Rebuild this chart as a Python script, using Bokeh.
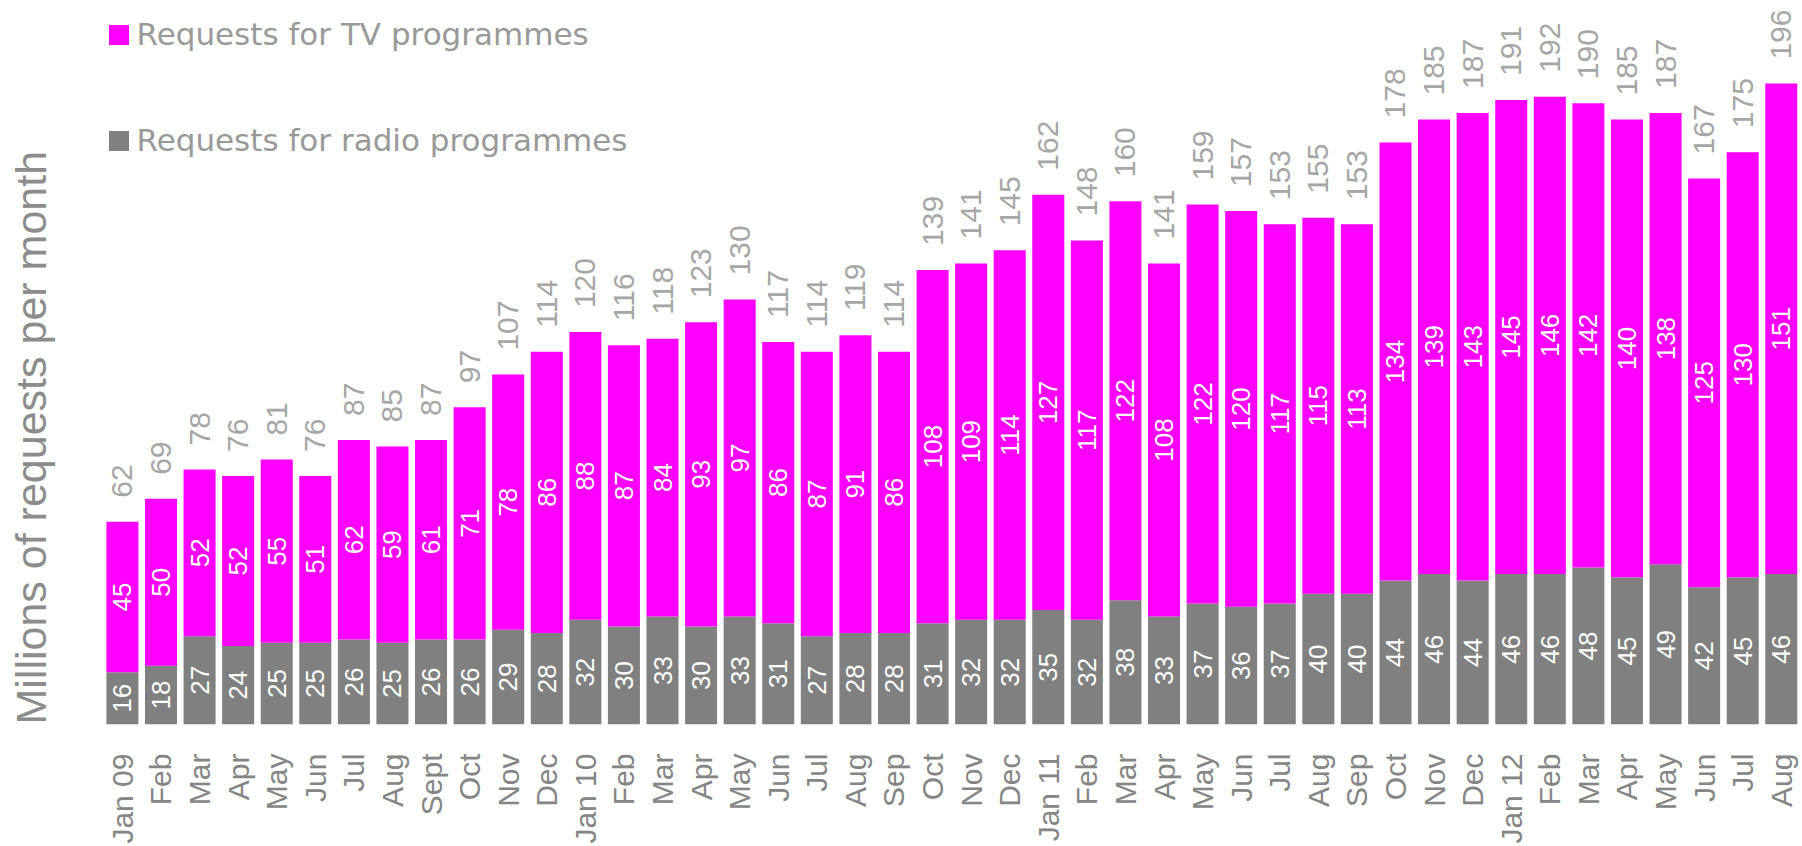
from bokeh.plotting import figure
from bokeh.models import ColumnDataSource, Range1d, FixedTicker, Legend, LegendItem, Title
from bokeh.core.properties import value
from bokeh.embed import file_html
from bokeh.resources import INLINE
import math

months = ["Jan 09", "Feb", "Mar", "Apr", "May", "Jun", "Jul", "Aug", "Sept", "Oct", "Nov", "Dec",
          "Jan 10", "Feb", "Mar", "Apr", "May", "Jun", "Jul", "Aug", "Sep", "Oct", "Nov", "Dec",
          "Jan 11", "Feb", "Mar", "Apr", "May", "Jun", "Jul", "Aug", "Sep", "Oct", "Nov", "Dec",
          "Jan 12", "Feb", "Mar", "Apr", "May", "Jun", "Jul", "Aug"]
radio = [16, 18, 27, 24, 25, 25, 26, 25, 26, 26, 29, 28,
         32, 30, 33, 30, 33, 31, 27, 28, 28, 31, 32, 32,
         35, 32, 38, 33, 37, 36, 37, 40, 40, 44, 46, 44,
         46, 46, 48, 45, 49, 42, 45, 46]
tv = [45, 50, 52, 52, 55, 51, 62, 59, 61, 71, 78, 86,
      88, 87, 84, 93, 97, 86, 87, 91, 86, 108, 109, 114,
      127, 117, 122, 108, 122, 120, 117, 115, 113, 134, 139, 143,
      145, 146, 142, 140, 138, 125, 130, 151]
totals = [62, 69, 78, 76, 81, 76, 87, 85, 87, 97, 107, 114,
          120, 116, 118, 123, 130, 117, 114, 119, 114, 139, 141, 145,
          162, 148, 160, 141, 159, 157, 153, 155, 153, 178, 185, 187,
          191, 192, 190, 185, 187, 167, 175, 196]

x = list(range(len(months)))
src = ColumnDataSource(dict(
    x=x, radio=radio, tv=tv, total=totals,
    zero=[0] * len(x),
    radio_mid=[r / 2 for r in radio],
    tv_mid=[(r + t) / 2 for r, t in zip(radio, totals)],
    radio_lbl=[str(v) for v in radio],
    tv_lbl=[str(v) for v in tv],
    total_lbl=[str(v) for v in totals],
))

PINK = "#ff00ff"
GREY = "#808080"
FONT = "Liberation Sans"

p = figure(width=1802, height=846, output_backend="svg", toolbar_location=None,
           x_range=Range1d(-1.553, 43.55), y_range=Range1d(0, 221.4),
           min_border_left=62, min_border_right=0, min_border_top=0, min_border_bottom=0)
p.outline_line_color = None
p.xgrid.visible = False
p.ygrid.visible = False
p.yaxis.visible = False

r_radio = p.vbar(x="x", bottom="zero", top="radio", width=0.83, source=src,
                 fill_color=GREY, line_color=None)
r_tv = p.vbar(x="x", bottom="radio", top="total", width=0.83, source=src,
              fill_color=PINK, line_color=None)

# labels inside bars
p.text(x="x", y="radio_mid", text="radio_lbl", source=src, angle=math.pi / 2,
       text_align="center", text_baseline="middle", text_color="white",
       text_font=value(FONT), text_font_size="26px")
p.text(x="x", y="tv_mid", text="tv_lbl", source=src, angle=math.pi / 2,
       text_align="center", text_baseline="middle", text_color="white",
       text_font=value(FONT), text_font_size="26px")
# totals above bars
p.text(x="x", y="total", text="total_lbl", source=src, angle=math.pi / 2,
       text_align="left", text_baseline="middle", text_color="#a6a6a6",
       text_font=value(FONT), text_font_size="30px", y_offset=-24)

# x axis
xa = p.xaxis[0]
xa.ticker = FixedTicker(ticks=x)
xa.major_label_overrides = {i: m for i, m in zip(x, months)}
xa.major_label_orientation = math.pi / 2
xa.axis_line_color = None
xa.major_tick_line_color = None
xa.minor_tick_line_color = None
xa.major_tick_out = 0
xa.major_tick_in = 0
xa.major_label_standoff = 29
xa.major_label_text_font = FONT
xa.major_label_text_font_size = "30px"
xa.major_label_text_color = "#858585"

# y axis title
ytitle = Title(text="Millions of requests per month", align="left", offset=0,
               vertical_align="top", standoff=11, text_font=FONT,
               text_font_size="43px", text_font_style="normal",
               text_color="#8c8c8c")
p.add_layout(ytitle, "left")

legend = Legend(items=[LegendItem(label="Requests for TV programmes", renderers=[r_tv]),
                       LegendItem(label="Requests for radio programmes", renderers=[r_radio])],
                location=(43.5, 566), orientation="vertical")
legend.padding = 0
legend.margin = 0
legend.border_line_color = None
legend.background_fill_alpha = 0
legend.glyph_width = 25
legend.glyph_height = 25
legend.label_standoff = 6
legend.spacing = 70
legend.label_text_font = "DejaVu Sans"
legend.label_text_font_size = "31px"
legend.label_text_color = "#999999"
p.add_layout(legend)

open("out.html", "w").write(file_html(p, INLINE))
